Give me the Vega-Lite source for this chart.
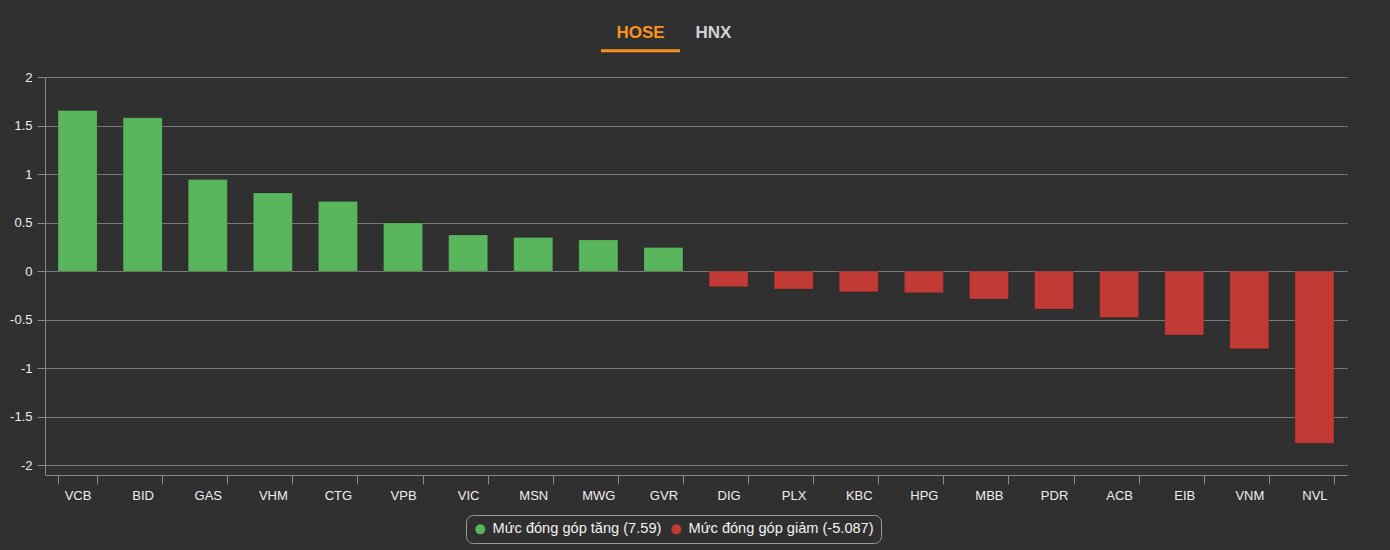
{
  "$schema": "https://vega.github.io/schema/vega-lite/v6.json",
  "background": "#303030",
  "padding": {"left": 9, "top": 14, "right": 43, "bottom": 7},
  "autosize": {"type": "pad"},
  "spacing": 17,
  "config": {
    "font": "Liberation Sans",
    "view": {"stroke": null},
    "axis": {"domainColor": "#8a8a8a", "tickColor": "#8a8a8a", "gridColor": "#7a7a7a", "labelColor": "#eeeeee", "labelFontSize": 13, "labelFont": "Liberation Sans"}
  },
  "datasets": {
    "tabs": [
      {"tab": "HOSE", "order": 0, "active": true},
      {"tab": "HNX", "order": 1, "active": false}
    ],
    "contrib": [
      {"code": "VCB", "value": 1.656, "type": "Mức đóng góp tăng (7.59)"},
      {"code": "BID", "value": 1.58, "type": "Mức đóng góp tăng (7.59)"},
      {"code": "GAS", "value": 0.943, "type": "Mức đóng góp tăng (7.59)"},
      {"code": "VHM", "value": 0.806, "type": "Mức đóng góp tăng (7.59)"},
      {"code": "CTG", "value": 0.717, "type": "Mức đóng góp tăng (7.59)"},
      {"code": "VPB", "value": 0.497, "type": "Mức đóng góp tăng (7.59)"},
      {"code": "VIC", "value": 0.373, "type": "Mức đóng góp tăng (7.59)"},
      {"code": "MSN", "value": 0.346, "type": "Mức đóng góp tăng (7.59)"},
      {"code": "MWG", "value": 0.322, "type": "Mức đóng góp tăng (7.59)"},
      {"code": "GVR", "value": 0.244, "type": "Mức đóng góp tăng (7.59)"},
      {"code": "DIG", "value": -0.161, "type": "Mức đóng góp giảm (-5.087)"},
      {"code": "PLX", "value": -0.185, "type": "Mức đóng góp giảm (-5.087)"},
      {"code": "KBC", "value": -0.213, "type": "Mức đóng góp giảm (-5.087)"},
      {"code": "HPG", "value": -0.223, "type": "Mức đóng góp giảm (-5.087)"},
      {"code": "MBB", "value": -0.288, "type": "Mức đóng góp giảm (-5.087)"},
      {"code": "PDR", "value": -0.391, "type": "Mức đóng góp giảm (-5.087)"},
      {"code": "ACB", "value": -0.477, "type": "Mức đóng góp giảm (-5.087)"},
      {"code": "EIB", "value": -0.658, "type": "Mức đóng góp giảm (-5.087)"},
      {"code": "VNM", "value": -0.799, "type": "Mức đóng góp giảm (-5.087)"},
      {"code": "NVL", "value": -1.773, "type": "Mức đóng góp giảm (-5.087)"}
    ]
  },
  "vconcat": [
    {
      "width": 1302,
      "height": 40,
      "data": {"name": "tabs"},
      "layer": [
        {
          "mark": {"type": "text", "fontSize": 17, "fontWeight": "bold", "baseline": "middle", "font": "Liberation Sans"},
          "encoding": {
            "x": {"field": "order", "type": "quantitative", "scale": {"domain": [-8.158, 9.678], "nice": false, "zero": false}, "axis": null},
            "y": {"datum": 0.52, "type": "quantitative", "scale": {"domain": [0, 1]}, "axis": null},
            "text": {"field": "tab"},
            "color": {"condition": {"test": "datum.active", "value": "#f7931e"}, "value": "#d2d2d2"}
          }
        },
        {
          "transform": [{"filter": "datum.active"}],
          "mark": {"type": "tick", "orient": "horizontal", "thickness": 3, "size": 79, "color": "#f7931e", "opacity": 1},
          "encoding": {
            "x": {"field": "order", "type": "quantitative", "scale": {"domain": [-8.158, 9.678], "nice": false, "zero": false}, "axis": null},
            "y": {"datum": 0.08, "type": "quantitative", "scale": {"domain": [0, 1]}, "axis": null}
          }
        }
      ]
    },
    {
      "width": 1302,
      "height": 398,
      "data": {"name": "contrib"},
      "mark": {"type": "bar", "stroke": "#000000", "strokeOpacity": 0.15, "strokeWidth": 1},
      "encoding": {
        "x": {
          "field": "code", "type": "nominal", "sort": null, "title": null,
          "scale": {"paddingInner": 0.4, "paddingOuter": 0.2},
          "axis": {"labelAngle": 0, "tickBand": "extent", "tickSize": 9, "labelPadding": 5, "grid": false}
        },
        "y": {
          "field": "value", "type": "quantitative", "title": null,
          "scale": {"domain": [-2.1, 2], "nice": false, "zero": false},
          "axis": {"values": [-2, -1.5, -1, -0.5, 0, 0.5, 1, 1.5, 2], "labelExpr": "datum.value + ''", "tickSize": 8, "labelPadding": 5, "grid": true}
        },
        "color": {
          "field": "type", "type": "nominal",
          "scale": {"domain": ["Mức đóng góp tăng (7.59)", "Mức đóng góp giảm (-5.087)"], "range": ["#59b65c", "#c13a35"]},
          "legend": {
            "orient": "none", "legendX": 421, "legendY": 501, "direction": "horizontal", "title": null,
            "symbolType": "circle", "symbolSize": 100, "symbolStrokeWidth": 0,
            "labelFontSize": 14.6, "labelColor": "#f2f2f2", "labelFont": "Liberation Sans", "labelLimit": 0,
            "strokeColor": "#9a9a9a", "cornerRadius": 7, "padding": 7, "fillColor": "#303030",
            "columnPadding": 7, "labelOffset": 5
          }
        }
      }
    }
  ]
}
